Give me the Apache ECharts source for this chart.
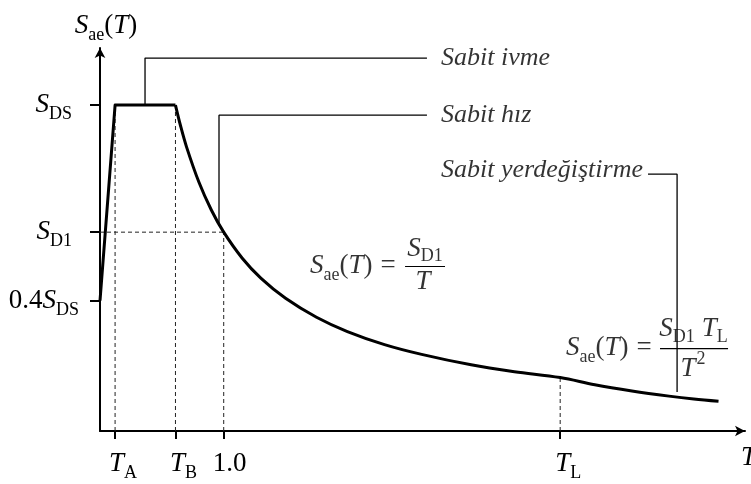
<!DOCTYPE html>
<html>
<head>
<meta charset="utf-8">
<script src="https://cdn.jsdelivr.net/npm/echarts@6/dist/echarts.min.js"></script>
<style>
  html, body { margin: 0; padding: 0; background: #fff; }
  #chart { width: 751px; height: 484px; }
</style>
</head>
<body>
<div id="chart"></div>
<script>
// Elastic design spectrum, normalised so that S_DS = 1
const SDS = 1.0;
const SD1 = 0.61;
const TA = 0.122;
const TB = 0.61;
const TL = 3.72;

// ramp from 0.4 S_DS and the constant-acceleration plateau
const plateauT = [0, 0.122, 0.61];
const plateauS = [0.4, 1.0, 1.0];

// descending branch: constant velocity up to TL, constant displacement beyond
const curveT = [0.61, 0.65, 0.7, 0.8, 0.9, 1.0, 1.15, 1.3, 1.5, 1.75, 2.0, 2.3, 2.6, 3.0, 3.35, 3.72, 4.0, 4.3, 4.6, 4.8, 5.0];
const curveS = [1.0, 0.938, 0.871, 0.763, 0.678, 0.61, 0.530, 0.469, 0.407, 0.349, 0.305, 0.265, 0.235, 0.203, 0.182, 0.164, 0.142, 0.123, 0.107, 0.098, 0.091];

// axis ticks and their labels
const xTickValues = [TA, TB, 1.0, TL];
const xTickLabels = ['{g16|}{i|T}{b|A}', '{g16|}{i|T}{b|B}', '{g12|}{r|1.0}', '{g16|}{i|T}{b|L}'];
const yTickValues = [0.4 * SDS, SD1, SDS];
const yTickLabels = ['{r|0.4}{i|S}{b|DS}', '{i|S}{b|D1}{g7|}', '{i|S}{b|DS}{g7|}'];

// region names with their leader lines
const noteTexts = ['Sabit ivme', 'Sabit hız', 'Sabit yerdeğiştirme'];
const noteAnchors = [[2.757, 1.144], [2.757, 0.969], [2.757, 0.801]];
const notePaths = [
  [[0.364, 1.0], [0.364, 1.144], [2.643, 1.144]],
  [[0.962, 0.634], [0.962, 0.969], [2.643, 0.969]],
  [[4.43, 0.788], [4.665, 0.788], [4.665, 0.12]]
];

const FONT = 'Liberation Serif';
const rich = {
  i: { fontFamily: FONT, fontStyle: 'italic', fontSize: 27, color: '#000' },
  r: { fontFamily: FONT, fontSize: 27, color: '#000' },
  b: { fontFamily: FONT, fontSize: 18, color: '#000', padding: [19, 0, 0, 0] },
  f: { fontFamily: FONT, fontSize: 18, color: '#000', padding: [16, 0, 0, 0] },
  p: { fontFamily: FONT, fontSize: 18, color: '#000', padding: [0, 0, 20, 1] },
  eq: { fontFamily: FONT, fontSize: 27, color: '#000', padding: [0, 0, 0, 8] },
  n: { fontFamily: FONT, fontStyle: 'italic', fontSize: 26, color: '#000' },
  g7: { width: 7 },
  g12: { width: 12 },
  g16: { width: 16 }
};

function pickLabel(values, labels, v) {
  let best = 0;
  values.forEach((t, k) => { if (Math.abs(t - v) < Math.abs(values[best] - v)) best = k; });
  return labels[best];
}

function line(points, style, z) {
  return {
    type: 'line', data: points, symbol: 'none', silent: true, animation: false,
    lineStyle: style, z: z || 2
  };
}

function textAt(point, text, position) {
  return {
    type: 'scatter', symbolSize: 0, silent: true, animation: false, z: 5,
    data: [point],
    label: { show: true, position: position, distance: 0, formatter: text, rich: rich }
  };
}

const dashed = { color: '#222', width: 1, type: [4, 3] };
const leader = { color: '#000', width: 1.3 };

const series = [];

// dashed guide lines
series.push(line([[TA, 0], [TA, SDS]], dashed, 1));
series.push(line([[TB, 0], [TB, SDS]], dashed, 1));
series.push(line([[1.0, 0], [1.0, SD1]], dashed, 1));
series.push(line([[0, SD1], [1.0, SD1]], dashed, 1));
series.push(line([[TL, 0], [TL, curveS[curveT.indexOf(TL)]]], dashed, 1));

// spectrum
series.push(line(plateauT.map((t, k) => [t, plateauS[k]]), { color: '#000', width: 3, join: 'round' }, 4));
series.push(Object.assign(line(curveT.map((t, k) => [t, curveS[k]]), { color: '#000', width: 3 }, 4), { smooth: 0.35 }));

// leader lines and region names
notePaths.forEach((p, k) => {
  series.push(line(p, leader, 3));
  series.push(textAt(noteAnchors[k], '{n|' + noteTexts[k] + '}', 'right'));
});

// formula for the constant-velocity branch
series.push(textAt([1.698, 0.506], '{i|S}{b|ae}{r|(}{i|T}{r|)}{eq|=}', 'right'));
series.push(textAt([2.627, 0.560], '{i|S}{f|D1}', 'inside'));
series.push(line([[2.466, 0.5046], [2.789, 0.5046]], { color: '#000', width: 1.2 }, 3));
series.push(textAt([2.611, 0.458], '{i|T}', 'inside'));

// formula for the constant-displacement branch
series.push(textAt([3.767, 0.256], '{i|S}{b|ae}{r|(}{i|T}{r|)}{eq|=}', 'right'));
series.push(textAt([4.798, 0.312], '{i|S}{f|D1}{g7|}{i|T}{f|L}', 'inside'));
series.push(line([[4.527, 0.253], [5.077, 0.253]], { color: '#000', width: 1.2 }, 3));
series.push(textAt([4.794, 0.190], '{i|T}{p|2}', 'inside'));

const chart = echarts.init(document.getElementById('chart'), null, { renderer: 'canvas' });
chart.setOption({
  animation: false,
  backgroundColor: '#fff',
  textStyle: { fontFamily: FONT, color: '#000' },
  grid: { left: 100, right: 6, top: 48, bottom: 53, containLabel: false, outerBoundsMode: 'none' },
  xAxis: {
    type: 'value', min: 0, max: 5.214,
    splitLine: { show: false },
    axisLine: { lineStyle: { color: '#000', width: 2 }, symbol: ['none', 'arrow'], symbolSize: [8, 10] },
    axisTick: { customValues: xTickValues, length: 8, lineStyle: { color: '#000', width: 2 } },
    axisLabel: {
      customValues: xTickValues, margin: 33, verticalAlign: 'middle',
      formatter: v => pickLabel(xTickValues, xTickLabels, v), rich: rich
    },
    name: '{i|T}', nameLocation: 'end', nameGap: -4,
    nameTextStyle: { rich: rich, padding: [54, 0, 0, 0] }
  },
  yAxis: {
    type: 'value', min: 0, max: 1.175,
    splitLine: { show: false },
    axisLine: { lineStyle: { color: '#000', width: 2 }, symbol: ['none', 'arrow'], symbolSize: [8, 10] },
    axisTick: { customValues: yTickValues, length: 10, lineStyle: { color: '#000', width: 2 } },
    axisLabel: {
      customValues: yTickValues, margin: 21, align: 'right',
      formatter: v => pickLabel(yTickValues, yTickLabels, v), rich: rich
    },
    name: '{i|S}{b|ae}{r|(}{i|T}{r|)}', nameLocation: 'end', nameGap: 4,
    nameTextStyle: { rich: rich, padding: [0, 0, 0, 12] }
  },
  series: series
});
</script>
</body>
</html>
